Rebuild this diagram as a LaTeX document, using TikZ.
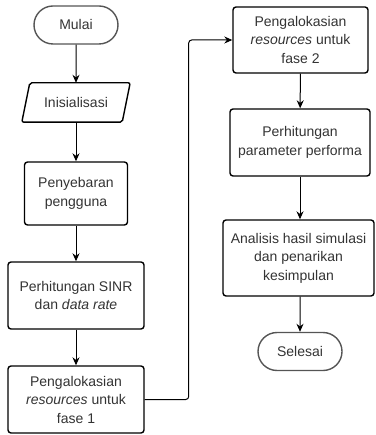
\documentclass[tikz,border=0pt]{standalone}
\usepackage{fontspec}
\setmainfont{Liberation Sans}
\usetikzlibrary{positioning}
\usetikzlibrary{shapes.misc}
\usetikzlibrary{arrows.meta}
\definecolor{txt}{HTML}{333333}
\definecolor{termline}{HTML}{555555}

\begin{document}
\begin{tikzpicture}[
			x=1pt, y=-1pt,
			font=\fontsize{14}{18.5}\selectfont,
			every node/.style = {text=txt, align=center, inner sep=0pt},
			proc/.style = {draw=black, line width=1.4pt, rounded corners=3pt},
			term/.style = {draw=termline, line width=1.4pt, rounded rectangle,
				minimum width=84pt, minimum height=38pt},
			io/.style = {draw=black, line width=1.4pt, rounded corners=2pt},
			flow/.style = {-{Stealth[length=8pt,width=7pt]}, line width=1pt}
			]
			\useasboundingbox (0,0) rectangle (375,435);
			\node (start) [term] at (76,25) {Mulai};
			\node (init) [minimum width=100pt, minimum height=39pt] at (76,102.5) {Inisialisasi};
			\draw [io] ([xshift=4pt]init.north west) -- ([xshift=4pt]init.north east)
			-- ([xshift=-4pt]init.south east) -- ([xshift=-4pt]init.south west) -- cycle;
			\node (sebar) [proc, minimum width=103pt, minimum height=63pt]
			at (76,193.5) {Penyebaran\\pengguna};
			\node (sinr) [proc, minimum width=136pt, minimum height=67pt]
			at (76,295.5) {Perhitungan SINR\\dan \textit{data rate}};
			\node (fase1) [proc, minimum width=136pt, minimum height=67pt]
			at (76,399.5) {Pengalokasian\\\textit{resources} untuk\\fase 1};
			\node (fase2) [proc, minimum width=135pt, minimum height=66pt]
			at (300.5,40) {Pengalokasian\\\textit{resources} untuk\\fase 2};
			\node (param) [proc, minimum width=140pt, minimum height=67pt]
			at (300,142.5) {Perhitungan\\parameter performa};
			\node (hasil) [proc, minimum width=151pt, minimum height=76pt]
			at (298.5,258) {Analisis hasil simulasi\\dan penarikan\\kesimpulan};
			\node (stop) [term] at (300,351.5) {Selesai};
			\draw [flow] (start) -- (init);
			\draw [flow] (init) -- (sebar);
			\draw [flow] (sebar) -- (sinr);
			\draw [flow] (sinr) -- (fase1);
			\draw [flow, rounded corners=3pt] (fase1.east) -- ++(44,0) |- (fase2.west);
			\draw [flow] (fase2) -- (param);
			\draw [flow] (param) -- (param |- hasil.north);
			\draw [flow] (hasil.south -| stop) -- (stop);
		\end{tikzpicture}
\end{document}
